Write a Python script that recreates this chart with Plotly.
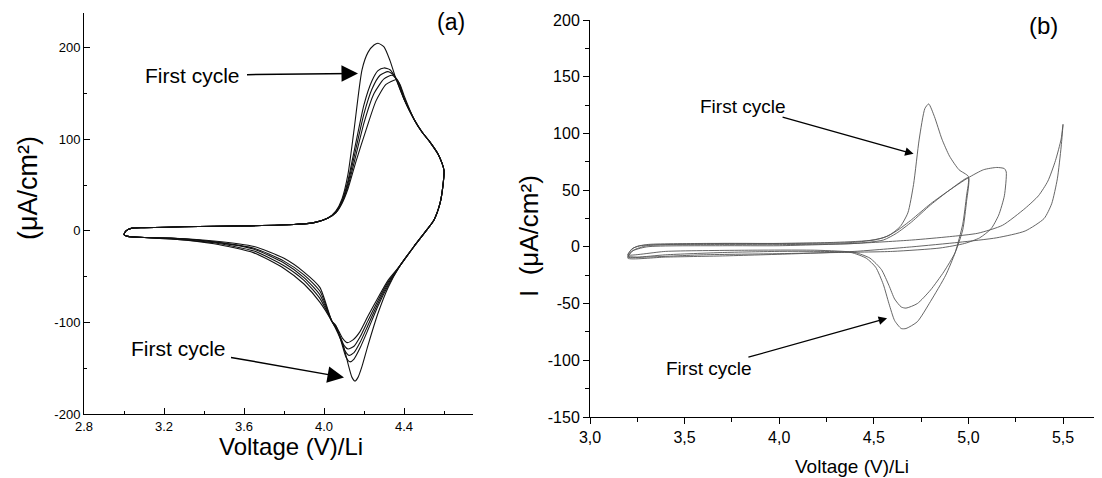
import plotly.graph_objects as go

# ---------------- Panel (a) data: 5 CV cycles ----------------
a1_v = [3.00, 3.01, 3.04, 3.10, 3.30, 3.60, 3.85, 3.95, 4.02, 4.06, 4.09, 4.12, 4.15, 4.19, 4.22, 4.25, 4.27, 4.30, 4.33, 4.36, 4.40, 4.45, 4.49, 4.53, 4.57, 4.59, 4.60,
        4.595, 4.58, 4.55, 4.51, 4.45, 4.38, 4.32, 4.27, 4.22, 4.19, 4.17, 4.155, 4.14, 4.12, 4.10, 4.07, 4.04, 3.98, 3.90, 3.80, 3.65, 3.45, 3.25, 3.08, 3.02, 3.00]
a1_i = [-4, 0, 3, 3.5, 4.5, 5.5, 7, 9, 14, 22, 35, 62, 110, 176, 195, 203, 205, 201, 186, 166, 144, 122, 108, 97, 84, 74, 66,
        50, 30, 12, 0, -17, -38, -62, -90, -125, -148, -160, -164, -160, -145, -128, -112, -99, -78, -58, -41, -24, -14, -9, -7, -6, -4]

a2_v = [3.00, 3.01, 3.04, 3.10, 3.30, 3.60, 3.85, 3.95, 4.02, 4.06, 4.09, 4.12, 4.16, 4.20, 4.24, 4.27, 4.30, 4.33, 4.36, 4.40, 4.45, 4.49, 4.53, 4.57, 4.59, 4.60,
        4.595, 4.58, 4.55, 4.51, 4.45, 4.38, 4.32, 4.27, 4.22, 4.18, 4.15, 4.13, 4.11, 4.09, 4.07, 4.04, 3.98, 3.90, 3.80, 3.65, 3.45, 3.25, 3.08, 3.02, 3.00]
a2_i = [-4, 0, 3, 3.5, 4.5, 5.5, 7, 9, 14, 21, 33, 55, 97, 138, 164, 175, 178, 176, 166, 144, 122, 108, 97, 84, 74, 66,
        50, 30, 12, 0, -17, -38, -60, -82, -108, -128, -140, -143, -138, -124, -110, -99, -74, -54, -38, -22, -13, -9, -7, -6, -4]

a3_v = [3.00, 3.01, 3.04, 3.10, 3.30, 3.60, 3.85, 3.95, 4.02, 4.06, 4.09, 4.12, 4.16, 4.20, 4.24, 4.28, 4.32, 4.35, 4.38, 4.40, 4.45, 4.49, 4.53, 4.57, 4.59, 4.60,
        4.595, 4.58, 4.55, 4.51, 4.45, 4.38, 4.32, 4.27, 4.22, 4.18, 4.15, 4.125, 4.105, 4.085, 4.06, 4.04, 3.98, 3.90, 3.80, 3.65, 3.45, 3.25, 3.08, 3.02, 3.00]
a3_i = [-4, 0, 3, 3.5, 4.5, 5.5, 7, 9, 14, 21, 32, 52, 90, 128, 155, 170, 174, 170, 158, 144, 122, 108, 97, 84, 74, 66,
        50, 30, 12, 0, -17, -38, -58, -79, -103, -122, -133, -136, -131, -118, -106, -99, -70, -51, -35, -20, -12, -8, -7, -6, -4]

a4_v = [3.00, 3.01, 3.04, 3.10, 3.30, 3.60, 3.85, 3.95, 4.02, 4.06, 4.09, 4.12, 4.16, 4.20, 4.25, 4.30, 4.34, 4.37, 4.40, 4.45, 4.49, 4.53, 4.57, 4.59, 4.60,
        4.595, 4.58, 4.55, 4.51, 4.45, 4.38, 4.32, 4.27, 4.22, 4.18, 4.15, 4.12, 4.10, 4.08, 4.06, 4.04, 3.98, 3.90, 3.80, 3.65, 3.45, 3.25, 3.08, 3.02, 3.00]
a4_i = [-4, 0, 3, 3.5, 4.5, 5.5, 7, 9, 14, 20, 31, 49, 83, 118, 150, 166, 170, 164, 146, 122, 108, 97, 84, 74, 66,
        50, 30, 12, 0, -17, -38, -56, -76, -98, -116, -126, -129, -125, -115, -104, -99, -66, -48, -33, -19, -12, -8, -7, -6, -4]

a5_v = [3.00, 3.01, 3.04, 3.10, 3.30, 3.60, 3.85, 3.95, 4.02, 4.06, 4.09, 4.12, 4.16, 4.21, 4.26, 4.31, 4.36, 4.38, 4.40, 4.45, 4.49, 4.53, 4.57, 4.59, 4.60,
        4.595, 4.58, 4.55, 4.51, 4.45, 4.38, 4.32, 4.27, 4.22, 4.18, 4.145, 4.115, 4.095, 4.075, 4.055, 4.04, 3.98, 3.90, 3.80, 3.65, 3.45, 3.25, 3.08, 3.02, 3.00]
a5_i = [-4, 0, 3, 3.5, 4.5, 5.5, 7, 9, 14, 20, 30, 46, 76, 110, 142, 160, 165, 160, 148, 122, 108, 97, 84, 74, 66,
        50, 30, 12, 0, -17, -38, -54, -73, -93, -110, -119, -122, -118, -110, -102, -99, -62, -45, -30, -17, -11, -8, -7, -6, -4]

cycles_a = [(a1_v, a1_i), (a2_v, a2_i), (a3_v, a3_i), (a4_v, a4_i), (a5_v, a5_i)]

a_xticks = [2.8, 3.2, 3.6, 4.0, 4.4]
a_xticklabels = ["2.8", "3.2", "3.6", "4.0", "4.4"]
a_xminor = [3.0, 3.4, 3.8, 4.2, 4.6]
a_yticks = [-200, -100, 0, 100, 200]
a_yticklabels = ["-200", "-100", "0", "100", "200"]
a_yminor = [-150, -50, 50, 150]

# ---------------- Panel (b) data: 4 CV loops ----------------
b1_v = [3.20, 3.22, 3.26, 3.40, 3.70, 4.00, 4.30, 4.50, 4.58, 4.64, 4.68, 4.71, 4.74, 4.77, 4.79, 4.82, 4.86, 4.90, 4.95, 5.00,
        4.99, 4.97, 4.93, 4.88, 4.80, 4.73, 4.67, 4.645, 4.61, 4.58, 4.55, 4.51, 4.46, 4.38, 4.20, 4.00, 3.70, 3.40, 3.25, 3.20]
b1_i = [-8, -2, 1, 2, 3, 3, 4, 6, 10, 18, 30, 55, 95, 122, 126, 115, 95, 80, 68, 62,
        45, 20, -5, -25, -48, -66, -72, -72, -65, -50, -33, -18, -10, -5, -4, -4, -5, -7, -9, -8]

b2_v = [3.20, 3.23, 3.30, 3.60, 4.00, 4.40, 4.55, 4.62, 4.70, 4.80, 4.90, 5.00,
        4.99, 4.97, 4.93, 4.87, 4.80, 4.73, 4.67, 4.645, 4.61, 4.58, 4.54, 4.48, 4.40, 4.20, 3.80, 3.40, 3.20]
b2_i = [-7, -1, 2, 3, 3, 4, 8, 14, 24, 38, 50, 61,
        40, 15, -5, -22, -38, -50, -54, -53, -46, -34, -20, -10, -5, -3, -3, -4, -7]

b3_v = [3.20, 3.23, 3.30, 3.60, 4.00, 4.40, 4.55, 4.62, 4.70, 4.80, 4.90, 5.00, 5.08, 5.15, 5.19, 5.20,
        5.19, 5.16, 5.12, 5.06, 4.98, 4.85, 4.60, 4.30, 4.00, 3.60, 3.30, 3.20]
b3_i = [-9, -3, 1, 2, 2, 3, 6, 12, 22, 37, 50, 61, 68, 70, 69, 66,
        45, 28, 16, 8, 3, -1, -4, -5, -6, -7, -9, -9]

b4_v = [3.20, 3.22, 3.30, 3.70, 4.00, 4.40, 4.70, 4.90, 5.05, 5.18, 5.30, 5.37, 5.42, 5.46, 5.49, 5.50,
        5.49, 5.47, 5.44, 5.40, 5.30, 5.15, 4.95, 4.70, 4.40, 4.10, 3.70, 3.40, 3.20]
b4_i = [-10, -4, 0, 1, 1, 3, 6, 9, 12, 19, 34, 45, 58, 76, 95, 108,
        88, 60, 38, 25, 14, 8, 4, 0, -4, -6, -8, -9, -10]

cycles_b = [(b1_v, b1_i), (b2_v, b2_i), (b3_v, b3_i), (b4_v, b4_i)]

b_xticks = [3.0, 3.5, 4.0, 4.5, 5.0, 5.5]
b_xticklabels = ["3,0", "3,5", "4,0", "4,5", "5,0", "5,5"]
b_xminor = [3.25, 3.75, 4.25, 4.75, 5.25]
b_yticks = [-150, -100, -50, 0, 50, 100, 150, 200]
b_yticklabels = ["-150", "-100", "-50", "0", "50", "100", "150", "200"]
b_yminor = [-125, -75, -25, 25, 75, 125, 175]

# page body has an 8 px margin: the figure is sized/placed to fill the window exactly
OFF = 8
W, H = 1102 - OFF, 478 - OFF
FONT = "Liberation Sans, Arial, sans-serif"

fig = go.Figure()
for v, i in cycles_a:
    fig.add_trace(go.Scatter(x=v, y=i, mode="lines", xaxis="x", yaxis="y",
                             line=dict(color="#111111", width=1.1, shape="spline", smoothing=0.6),
                             showlegend=False, hoverinfo="skip"))
for v, i in cycles_b:
    fig.add_trace(go.Scatter(x=v, y=i, mode="lines", xaxis="x2", yaxis="y2",
                             line=dict(color="#555555", width=0.9, shape="spline", smoothing=0.6),
                             showlegend=False, hoverinfo="skip"))

def px(x):
    return (x - OFF) / W

def py(y):
    return 1 - (y - OFF) / H

common = dict(showline=True, linecolor="black", linewidth=1, showgrid=False, zeroline=False,
              tickcolor="black", tickmode="array", automargin=False)

fig.update_layout(
    template="none",
    width=W, height=H,
    margin=dict(l=0, r=0, t=0, b=0, pad=0, autoexpand=False),
    paper_bgcolor="white", plot_bgcolor="white",
    font=dict(family=FONT, color="black"),
    xaxis=dict(domain=[px(84), px(473)], range=[2.8, 4.745], anchor="y",
               ticks="inside", ticklen=6, tickvals=a_xticks, ticktext=a_xticklabels,
               tickfont=dict(family=FONT, size=13, color="black"),
               minor=dict(ticks="inside", ticklen=3, tickcolor="black", tickmode="array", tickvals=a_xminor),
               **common),
    yaxis=dict(domain=[py(414), py(13)], range=[-200, 238], anchor="x",
               ticks="inside", ticklen=6, tickvals=a_yticks, ticktext=a_yticklabels,
               tickfont=dict(family=FONT, size=13, color="black"),
               minor=dict(ticks="inside", ticklen=3, tickcolor="black", tickmode="array", tickvals=a_yminor),
               **common),
    xaxis2=dict(domain=[px(590), 1.0], range=[3.0, 5.706], anchor="y2",
                ticks="outside", ticklen=6, tickvals=b_xticks, ticktext=b_xticklabels,
                tickfont=dict(family=FONT, size=16, color="black"),
                minor=dict(ticks="outside", ticklen=4, tickcolor="black", tickmode="array", tickvals=b_xminor),
                **common),
    yaxis2=dict(domain=[py(417), py(20)], range=[-150, 200], anchor="x2",
                ticks="outside", ticklen=6, tickvals=b_yticks, ticktext=b_yticklabels,
                tickfont=dict(family=FONT, size=16, color="black"),
                minor=dict(ticks="outside", ticklen=4, tickcolor="black", tickmode="array", tickvals=b_yminor),
                **common),
)

ann = []
# axis titles
ann.append(dict(text="Voltage (V)/Li", xref="paper", yref="paper", x=px(291), y=py(446),
                showarrow=False, font=dict(size=24, family=FONT), xanchor="center", yanchor="middle"))
ann.append(dict(text="Voltage (V)/Li", xref="paper", yref="paper", x=px(852), y=py(466),
                showarrow=False, font=dict(size=19, family=FONT), xanchor="center", yanchor="middle"))
ann.append(dict(text="(μA/cm²)", xref="paper", yref="paper", x=px(28), y=py(188),
                showarrow=False, textangle=-90, font=dict(size=27, family=FONT), xanchor="center", yanchor="middle"))
ann.append(dict(text="I  (μA/cm²)", xref="paper", yref="paper", x=px(529), y=py(236),
                showarrow=False, textangle=-90, font=dict(size=26, family=FONT), xanchor="center", yanchor="middle"))
# panel labels
ann.append(dict(text="(a)", xref="paper", yref="paper", x=px(451), y=py(22),
                showarrow=False, font=dict(size=23, family=FONT), xanchor="center", yanchor="middle"))
ann.append(dict(text="(b)", xref="paper", yref="paper", x=px(1043), y=py(25),
                showarrow=False, font=dict(size=24, family=FONT), xanchor="center", yanchor="middle"))

# panel (a) "First cycle" labels with arrows
ann.append(dict(text="First cycle", xref="x", yref="y", axref="x", ayref="y",
                x=4.17, y=172, ax=3.34, ay=170, borderpad=7,
                font=dict(size=21, family=FONT), showarrow=True, arrowhead=2, arrowsize=2.2,
                arrowwidth=1.5, arrowcolor="black"))
ann.append(dict(text="First cycle", xref="x", yref="y", axref="x", ayref="y",
                x=4.10, y=-160, ax=3.27, ay=-128, borderpad=5,
                font=dict(size=21, family=FONT), showarrow=True, arrowhead=2, arrowsize=2.2,
                arrowwidth=1.5, arrowcolor="black"))

# panel (b) "First cycle" labels with arrows
ann.append(dict(text="First cycle", xref="x2", yref="y2", axref="x2", ayref="y2",
                x=4.71, y=82, ax=3.81, ay=124, borderpad=0,
                font=dict(size=19, family=FONT), showarrow=True, arrowhead=2, arrowsize=1.3,
                arrowwidth=1.3, arrowcolor="black"))
ann.append(dict(text="First cycle", xref="x2", yref="y2", axref="x2", ayref="y2",
                x=4.57, y=-63, ax=3.63, ay=-107, borderpad=0,
                font=dict(size=19, family=FONT), showarrow=True, arrowhead=2, arrowsize=1.3,
                arrowwidth=1.3, arrowcolor="black"))

fig.update_layout(annotations=ann)
fig.write_html("out.html")
